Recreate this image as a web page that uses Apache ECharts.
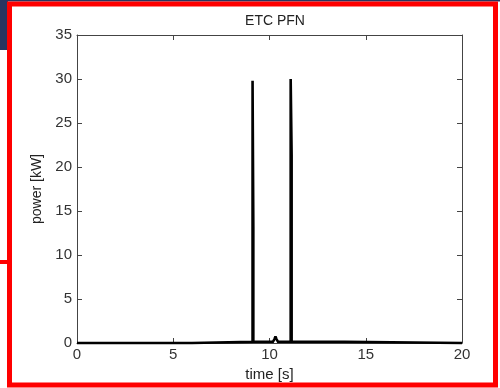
<!DOCTYPE html>
<html>
<head>
<meta charset="utf-8">
<script src="https://cdn.jsdelivr.net/npm/echarts@6/dist/echarts.min.js"></script>
<style>html,body{margin:0;padding:0;background:#fff;}#c{width:500px;height:388px;}</style>
</head>
<body>
<div id="c"></div>
<script>
// time [s]
const timeS = [0, 5.97, 5.97, 9.12, 9.12, 9.16, 9.16, 10.18, 10.26, 10.31, 10.36, 10.44, 11.10, 11.10, 11.15, 11.15, 13.9, 13.9, 20];
// power [kW]
const powerKW = [0, 0, 0.15, 0.15, 29.8, 13.2, 0.15, 0.15, 0.45, 0.75, 0.45, 0.15, 0.15, 30.0, 21.4, 0.15, 0.15, 0, 0];
const xTicks = [0, 5, 10, 15, 20];
const yTicks = [0, 5, 10, 15, 20, 25, 30, 35];

const font = 'Liberation Sans, Arial, sans-serif';
const axisCol = '#444';
const txtCol = '#333';
const chart = echarts.init(document.getElementById('c'), null, {renderer: 'canvas'});
const axCommon = {
  axisLine: {show: true, onZero: false, lineStyle: {color: axisCol, width: 1}},
  axisTick: {show: true, inside: true, length: 5, lineStyle: {color: axisCol}},
  splitLine: {show: false}
};
chart.setOption({
  animation: false,
  backgroundColor: '#fff',
  title: {
    text: 'ETC PFN', left: 270, top: 9, textAlign: 'center',
    textStyle: {fontFamily: font, fontSize: 14, fontWeight: 'normal', color: '#222'}
  },
  grid: {left: 77, right: 38, top: 35, bottom: 45},
  xAxis: [
    Object.assign({
      type: 'value', min: xTicks[0], max: xTicks[xTicks.length - 1], interval: 5, position: 'bottom',
      name: 'time [s]', nameLocation: 'middle', nameGap: 24,
      nameTextStyle: {fontFamily: font, fontSize: 15, color: '#222'},
      axisLabel: {fontFamily: font, fontSize: 15, color: txtCol, margin: 4}
    }, axCommon),
    Object.assign({
      type: 'value', min: xTicks[0], max: xTicks[xTicks.length - 1], interval: 5, position: 'top',
      axisLabel: {show: false}
    }, axCommon)
  ],
  yAxis: [
    Object.assign({
      type: 'value', min: yTicks[0], max: yTicks[yTicks.length - 1], interval: 5, position: 'left',
      name: 'power [kW]', nameLocation: 'middle', nameGap: 29,
      nameTextStyle: {fontFamily: font, fontSize: 14, color: '#222'},
      axisLabel: {fontFamily: font, fontSize: 15, color: txtCol, margin: 5}
    }, axCommon),
    Object.assign({
      type: 'value', min: yTicks[0], max: yTicks[yTicks.length - 1], interval: 5, position: 'right',
      axisLabel: {show: false}
    }, axCommon)
  ],
  series: [{
    type: 'line',
    xAxisIndex: 0, yAxisIndex: 0,
    data: timeS.map((t, i) => [t, powerKW[i]]),
    showSymbol: false,
    clip: false,
    lineStyle: {color: '#000', width: 2.6, join: 'miter', miterLimit: 2},
    z: 5
  }],
  graphic: [
    {type: 'rect', shape: {x: 0, y: 0, width: 500, height: 1.5}, style: {fill: '#2b3560'}, z: 100},
    {type: 'rect', shape: {x: 0, y: 0, width: 8, height: 50}, style: {fill: '#2b3560'}, z: 100},
    {type: 'rect', shape: {x: 9.5, y: 4, width: 486, height: 381}, style: {fill: 'none', stroke: '#ff0000', lineWidth: 5}, z: 101},
    {type: 'rect', shape: {x: 0, y: 260, width: 9, height: 4}, style: {fill: '#ff0000'}, z: 101}
  ]
});
</script>
</body>
</html>
